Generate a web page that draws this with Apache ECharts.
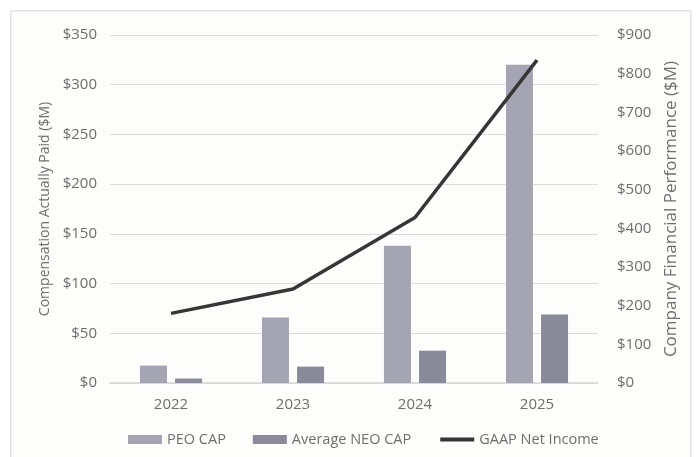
<!DOCTYPE html>
<html>
<head>
<meta charset="utf-8">
<script src="https://cdn.jsdelivr.net/npm/echarts@6/dist/echarts.min.js"></script>
<style>
html,body{margin:0;padding:0;background:#ffffff;}
#chart{width:697px;height:457px;}
</style>
</head>
<body>
<div id="chart"></div>
<script>
const categories = ['2022', '2023', '2024', '2025'];
const peoCap = [17.5, 66, 138, 320];
const neoCap = [4.5, 16.5, 32.5, 69];
const gaapNetIncome = [180, 243, 428, 835];
const leftTicks = [0, 350, 50];
const rightTicks = [0, 900, 100];

const textColor = '#6e6e6e';
const font = '"Open Sans", "Liberation Sans", sans-serif';

const chart = echarts.init(document.getElementById('chart'), null, {renderer: 'canvas'});
chart.setOption({
  backgroundColor: '#ffffff',
  animation: false,
  graphic: [{
    type: 'rect',
    left: 10, top: 10,
    shape: {width: 680, height: 460},
    style: {fill: '#fdfdfb', stroke: '#e3e3e3', lineWidth: 1.5},
    z: -10
  }],
  grid: {left: 110, right: 99, top: 35, bottom: 74},
  legend: {
    top: 427,
    left: 123,
    itemWidth: 34,
    itemHeight: 9,
    itemGap: 27,
    textStyle: {color: textColor, fontSize: 14.5, fontFamily: font},
    data: [
      {name: 'PEO CAP', icon: 'rect'},
      {name: 'Average NEO CAP', icon: 'rect'},
      {name: 'GAAP Net Income', itemStyle: {opacity: 0}, lineStyle: {width: 4}}
    ]
  },
  xAxis: {
    type: 'category',
    data: categories,
    axisLine: {lineStyle: {color: '#d6d6d6', width: 1.5}},
    axisTick: {show: false},
    axisLabel: {color: textColor, fontSize: 15, fontFamily: font, margin: 14}
  },
  yAxis: [{
    type: 'value',
    min: leftTicks[0], max: leftTicks[1], interval: leftTicks[2],
    name: 'Compensation Actually Paid ($M)',
    nameLocation: 'middle',
    nameGap: 54,
    nameRotate: 90,
    nameTextStyle: {color: textColor, fontSize: 14, fontFamily: font},
    axisLine: {show: false},
    axisTick: {show: false},
    axisLabel: {color: textColor, fontSize: 15, fontFamily: font, margin: 13, formatter: v => '$' + v},
    splitLine: {lineStyle: {color: '#dcdcdc', width: 1.2}}
  }, {
    type: 'value',
    min: rightTicks[0], max: rightTicks[1], interval: rightTicks[2],
    name: 'Company Financial Performance ($M)',
    nameLocation: 'middle',
    nameGap: 64,
    nameRotate: 90,
    nameTextStyle: {color: textColor, fontSize: 17, fontFamily: font},
    axisLine: {show: false},
    axisTick: {show: false},
    axisLabel: {color: textColor, fontSize: 15, fontFamily: font, margin: 19, formatter: v => '$' + v},
    splitLine: {show: false}
  }],
  series: [{
    name: 'PEO CAP',
    type: 'bar',
    data: peoCap,
    barWidth: 27,
    barGap: '30%',
    itemStyle: {color: '#a4a4b2'}
  }, {
    name: 'Average NEO CAP',
    type: 'bar',
    data: neoCap,
    barWidth: 27,
    itemStyle: {color: '#8a8b9a'}
  }, {
    name: 'GAAP Net Income',
    type: 'line',
    yAxisIndex: 1,
    data: gaapNetIncome,
    symbol: 'none',
    lineStyle: {color: '#363636', width: 3.5},
    itemStyle: {color: '#363636'}
  }]
});
</script>
</body>
</html>
